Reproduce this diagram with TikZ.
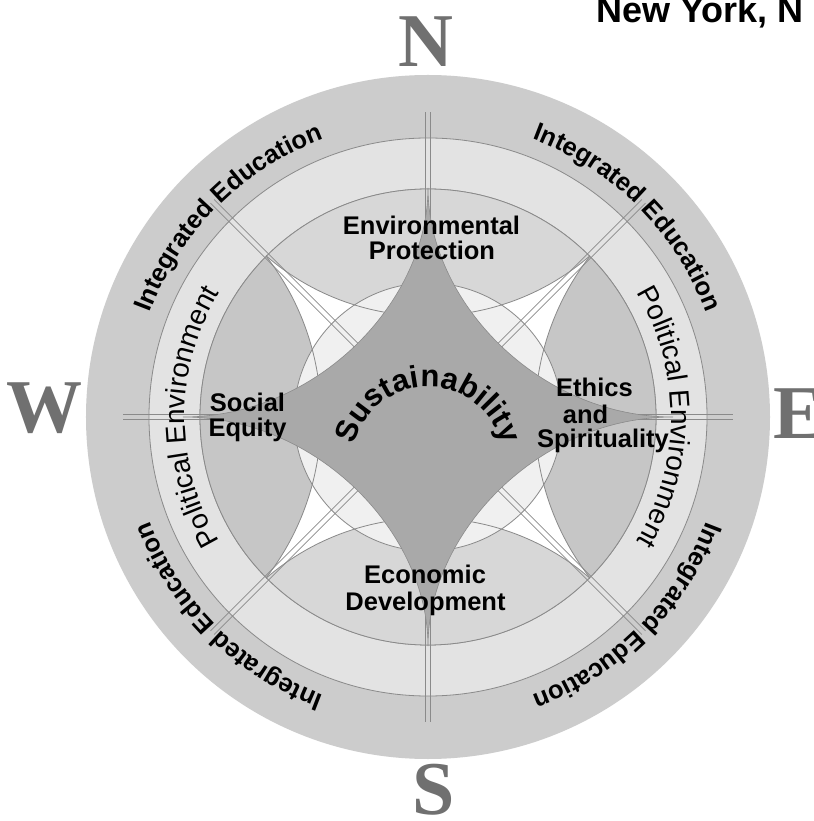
\documentclass[tikz,border=0pt]{standalone}
\usepackage{fontspec}
\setmainfont{Liberation Sans}
\newfontfamily\serifcomp{Liberation Serif}
\usetikzlibrary{decorations.text}
\definecolor{outerband}{HTML}{CCCCCC}
\definecolor{polband}{HTML}{E3E3E3}
\definecolor{nspetal}{HTML}{D7D7D7}
\definecolor{ewpetal}{HTML}{C6C6C6}
\definecolor{innerc}{HTML}{F0F0F0}
\definecolor{starc}{HTML}{A9A9A9}
\definecolor{linec}{HTML}{8A8A8A}
\definecolor{compassc}{HTML}{707070}
\newcommand\iefont{\bfseries\fontsize{25.5}{30}\selectfont}
\newcommand\pefont{\fontsize{28}{32}\selectfont}
\newcommand\sufont{\bfseries\fontsize{31}{34}\selectfont}
\begin{document}
\begin{tikzpicture}[x=1pt,y=1pt,
  thinline/.style={draw=linec, line width=0.8pt},
  lbl/.style={font=\bfseries\fontsize{25.5}{30}\selectfont, anchor=base, inner sep=0pt},
  compass/.style={font=\serifcomp\bfseries\fontsize{76}{80}\selectfont, text=compassc, anchor=base, inner sep=0pt},
  arctext/.style={decorate, decoration={text along path, text align=center, text={#1}}}
]
\useasboundingbox (-428,-404) rectangle (385,417);
\fill[white] (-428,-404) rectangle (385,417);
% rings
\fill[outerband] (0,0) circle[radius=342];
\filldraw[fill=polband, thinline] (0,0) circle[radius=279];
\filldraw[fill=white, thinline] (0,0) circle[radius=228];
% petals
\begin{scope}
  \clip (0,0) circle[radius=228];
  \fill[nspetal] (0,349) circle[radius=248];
  \fill[nspetal] (0,-349) circle[radius=248];
  \fill[ewpetal] (370,0) circle[radius=263];
  \fill[ewpetal] (-370,0) circle[radius=263];
  \draw[thinline] (0,349) circle[radius=248];
  \draw[thinline] (0,-349) circle[radius=248];
  \draw[thinline] (370,0) circle[radius=263];
  \draw[thinline] (-370,0) circle[radius=263];
\end{scope}
\draw[thinline] (0,0) circle[radius=228];
% inner circle
\filldraw[fill=innerc, thinline] (0,0) circle[radius=134];
\begin{scope}
  \clip (0,0) circle[radius=134];
  \draw[thinline] (0,349) circle[radius=248];
  \draw[thinline] (0,-349) circle[radius=248];
  \draw[thinline] (370,0) circle[radius=263];
  \draw[thinline] (-370,0) circle[radius=263];
\end{scope}
% double compass lines
\foreach \a/\rin in {0/210, 90/200, 180/210, 270/200, 45/95, 135/95, 225/95, 315/95} {
  \begin{scope}[rotate=\a]
    \draw[thinline] (\rin,2.6) -- (305,2.6);
    \draw[thinline] (\rin,-2.6) -- (305,-2.6);
  \end{scope}
}
% star
\filldraw[fill=starc, draw=linec, line width=0.6pt]
  (0,229) .. controls (0,116) and (110,0) .. (245,0)
  .. controls (110,0) and (0,-116) .. (0,-229)
  .. controls (0,-116) and (-110,0) .. (-245,0)
  .. controls (-110,0) and (0,116) .. (0,229) -- cycle;
% curved texts
\path[arctext={|\iefont|Integrated Education}] (180:297) arc[start angle=180, end angle=90, radius=297];
\path[arctext={|\iefont|Integrated Education}] (90:297) arc[start angle=90, end angle=0, radius=297];
\path[arctext={|\iefont|Integrated Education}] (0:297) arc[start angle=0, end angle=-90, radius=297];
\path[arctext={|\iefont|Integrated Education}] (-90:297) arc[start angle=-90, end angle=-180, radius=297];
\path[arctext={|\pefont|Political Environment}] (240:243) arc[start angle=240, end angle=120, radius=243];
\path[arctext={|\pefont|Political Environment}] (60:243) arc[start angle=60, end angle=-60, radius=243];
\path[arctext={|\sufont|Sustainability}] (-76,-46) arc[start angle=180, end angle=0, radius=76];
% labels
\node[lbl] (env1) at (3.5,182) {Environmental};
\node[lbl] (env2) at (4,157) {Protection};
\node[lbl] (eco1) at (-3,-166) {Economic};
\node[lbl] (eco2) at (-2.5,-193) {Development};
\node[lbl] (soc1) at (-180.5,5) {Social};
\node[lbl] (soc2) at (-180.5,-20) {Equity};
\node[lbl] (eth1) at (166.5,20) {Ethics};
\node[lbl] (eth2) at (157.5,-7) {and};
\node[lbl] (eth3) at (175,-31) {Spirituality};
% compass letters
\node[compass] (north) at (-2,350) {N};
\node[compass] (south) at (5.5,-397) {S};
\node[compass] (west) at (-383.5,-16) {W};
\node[compass, anchor=base west] (east) at (345,-22) {E};
% heading fragment
\node[font=\bfseries\fontsize{36}{40}\selectfont, anchor=base west, inner sep=0pt] (ny) at (168,394) {New York, N};
\end{tikzpicture}
\end{document}
